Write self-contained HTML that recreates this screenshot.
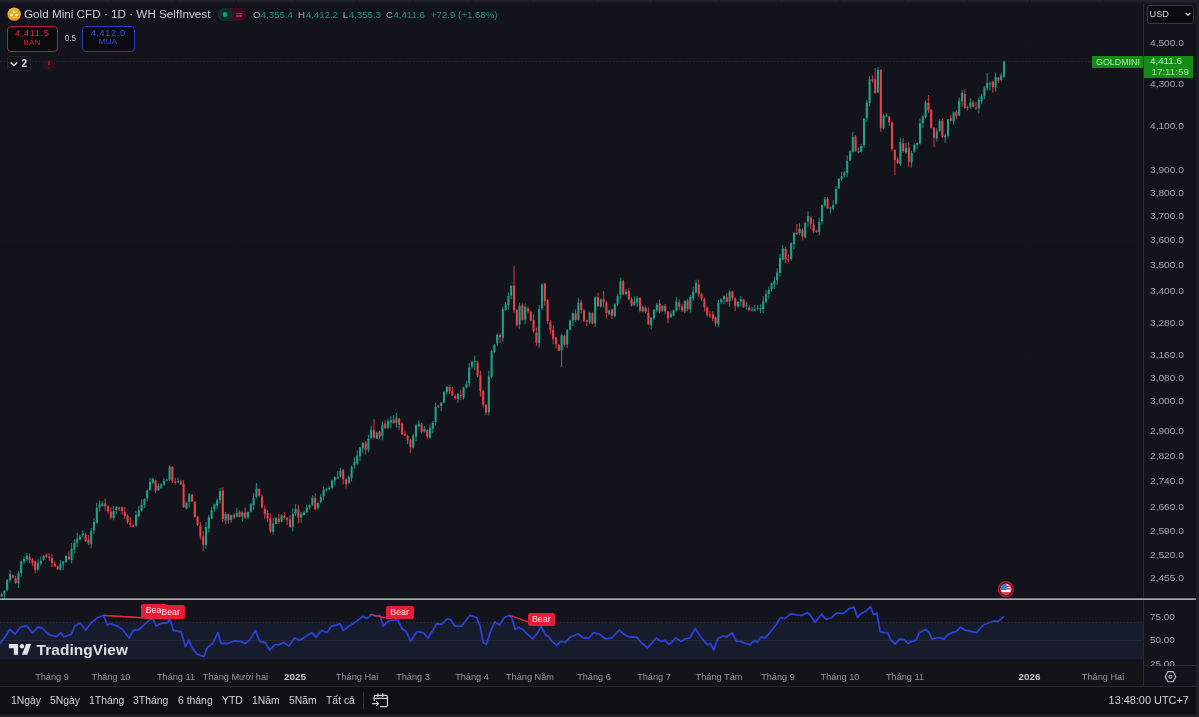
<!DOCTYPE html>
<html><head><meta charset="utf-8"><title>Gold Mini CFD</title>
<style>
*{margin:0;padding:0;box-sizing:border-box}
html,body{width:1199px;height:717px;overflow:hidden;background:#12131b;font-family:"Liberation Sans",Arial,sans-serif;color:#d1d4dc}
.abs{position:absolute}
.t{position:absolute;line-height:1;white-space:nowrap}
#topstrip{position:absolute;left:0;top:0;width:1199px;height:4px;background:linear-gradient(#24252d,#12131b)}
</style></head><body>
<div id="topstrip"></div>

<!-- main chart -->
<svg class="abs" style="left:0;top:0" width="1199" height="717" viewBox="0 0 1199 717">
  <g stroke="#15161d" stroke-width="1"><line x1="52" y1="0" x2="52" y2="598" /><line x1="111" y1="0" x2="111" y2="598" /><line x1="176" y1="0" x2="176" y2="598" /><line x1="235.5" y1="0" x2="235.5" y2="598" /><line x1="295" y1="0" x2="295" y2="598" /><line x1="357" y1="0" x2="357" y2="598" /><line x1="413" y1="0" x2="413" y2="598" /><line x1="472" y1="0" x2="472" y2="598" /><line x1="530" y1="0" x2="530" y2="598" /><line x1="594" y1="0" x2="594" y2="598" /><line x1="654" y1="0" x2="654" y2="598" /><line x1="719" y1="0" x2="719" y2="598" /><line x1="778" y1="0" x2="778" y2="598" /><line x1="840" y1="0" x2="840" y2="598" /><line x1="905" y1="0" x2="905" y2="598" /><line x1="1029.5" y1="0" x2="1029.5" y2="598" /><line x1="1103" y1="0" x2="1103" y2="598" /><line x1="967" y1="0" x2="967" y2="598" /><line x1="0" y1="43.5" x2="1143" y2="43.5" /><line x1="0" y1="83.6" x2="1143" y2="83.6" /><line x1="0" y1="125.7" x2="1143" y2="125.7" /><line x1="0" y1="169.8" x2="1143" y2="169.8" /><line x1="0" y1="192.7" x2="1143" y2="192.7" /><line x1="0" y1="216.3" x2="1143" y2="216.3" /><line x1="0" y1="240.5" x2="1143" y2="240.5" /><line x1="0" y1="265.3" x2="1143" y2="265.3" /><line x1="0" y1="290.9" x2="1143" y2="290.9" /><line x1="0" y1="322.6" x2="1143" y2="322.6" /><line x1="0" y1="355.5" x2="1143" y2="355.5" /><line x1="0" y1="378.2" x2="1143" y2="378.2" /><line x1="0" y1="401.4" x2="1143" y2="401.4" /><line x1="0" y1="431.3" x2="1143" y2="431.3" /><line x1="0" y1="456.0" x2="1143" y2="456.0" /><line x1="0" y1="481.4" x2="1143" y2="481.4" /><line x1="0" y1="507.6" x2="1143" y2="507.6" /><line x1="0" y1="531.1" x2="1143" y2="531.1" /><line x1="0" y1="555.3" x2="1143" y2="555.3" /><line x1="0" y1="578.4" x2="1143" y2="578.4" /></g>
  <!-- last price line -->
  <line x1="0" y1="61.5" x2="1143" y2="61.5" stroke="#23252d" stroke-width="1" stroke-dasharray="2 1.5"/>
  <path d="M-1.20 595.31V600.23M1.60 592.76V597.05M4.40 589.97V599.41M7.20 579.15V591.44M10.00 570.10V582.25M18.40 571.13V587.95M21.20 560.43V576.77M24.00 556.22V564.11M26.80 552.94V561.28M38.00 558.90V571.10M40.80 556.28V565.56M43.60 554.83V560.69M60.40 559.90V570.44M63.20 560.88V570.12M66.00 555.37V562.98M71.60 543.31V563.41M74.40 539.12V553.51M77.20 532.73V546.97M80.00 534.62V540.21M82.80 530.44V537.41M91.20 527.99V548.20M94.00 518.24V534.17M96.80 502.57V523.57M99.60 500.36V511.54M102.40 501.20V506.54M113.60 506.05V520.27M116.40 506.16V513.72M136.00 511.07V526.76M138.80 505.92V517.48M141.60 499.11V511.59M144.40 498.18V508.18M147.20 489.41V501.04M150.00 477.85V491.06M152.80 477.64V484.17M158.40 483.32V490.98M161.20 483.39V488.68M164.00 478.69V485.76M166.80 478.87V481.28M169.60 465.23V480.68M178.00 477.63V483.43M186.40 501.59V509.46M189.20 493.11V507.60M206.00 522.01V548.68M208.80 515.10V532.53M211.60 506.92V519.50M214.40 503.72V511.92M217.20 498.27V509.17M220.00 488.07V503.55M225.60 512.15V524.35M231.20 514.64V522.66M236.80 507.56V517.51M242.40 511.41V521.84M248.00 511.45V519.24M250.80 502.97V512.68M253.60 492.96V510.22M256.40 483.01V498.19M273.20 517.88V534.59M276.00 517.30V524.56M281.60 514.13V522.40M292.80 508.49V531.43M295.60 504.01V515.89M301.20 511.82V522.97M304.00 510.43V515.75M306.80 504.31V513.07M309.60 504.41V509.61M312.40 495.31V506.06M318.00 501.78V509.45M320.80 493.95V503.43M323.60 486.57V500.22M326.40 487.82V491.46M329.20 485.90V489.95M332.00 479.32V488.82M334.80 476.60V485.30M337.60 471.22V479.30M340.40 467.87V477.91M348.80 475.54V484.06M351.60 465.59V481.73M354.40 457.32V468.87M357.20 450.39V464.83M360.00 446.92V461.34M362.80 442.00V453.48M368.40 434.47V452.35M371.20 425.83V438.53M376.80 431.58V439.16M382.40 421.46V440.30M388.00 418.55V429.14M390.80 416.13V428.33M396.40 412.76V427.87M413.20 433.51V448.62M416.00 424.13V440.99M418.80 420.42V427.20M424.40 426.01V432.59M430.00 424.08V438.69M432.80 420.91V433.37M435.60 402.76V425.53M441.20 401.85V410.91M444.00 391.26V403.44M446.80 385.84V394.53M458.00 393.05V402.90M463.60 386.46V399.80M466.40 380.57V388.53M469.20 363.02V387.05M472.00 360.83V368.48M474.80 355.82V370.00M488.80 370.75V415.38M491.60 350.18V378.52M494.40 344.07V352.84M497.20 333.46V345.78M502.80 306.57V341.69M505.60 301.85V311.28M508.40 292.34V309.88M511.20 285.09V299.15M519.60 302.48V328.53M525.20 303.42V324.10M539.20 304.89V347.72M542.00 283.28V310.47M561.60 333.73V367.00M567.20 328.92V348.13M570.00 319.49V330.79M572.80 312.50V326.05M578.40 297.71V320.69M589.60 311.50V324.14M595.20 296.37V327.12M600.80 298.45V307.65M609.20 309.65V315.23M614.80 303.49V317.62M617.60 293.62V306.05M620.40 277.60V299.16M626.00 288.84V295.43M634.40 296.42V305.86M637.20 295.93V306.90M642.80 305.47V312.22M651.20 317.05V329.53M654.00 308.89V319.77M656.80 302.76V312.32M662.40 305.23V311.96M670.80 311.22V317.85M673.60 309.70V316.39M676.40 296.97V311.37M684.80 300.23V313.24M690.40 294.80V312.43M693.20 286.38V300.98M696.00 279.73V293.68M718.40 299.87V326.96M721.20 298.16V304.12M724.00 295.45V304.38M729.60 290.23V306.94M738.00 301.18V307.62M740.80 296.00V306.81M746.40 301.85V309.87M752.00 306.93V311.50M754.80 305.26V311.53M757.60 305.00V310.40M760.40 304.39V313.22M763.20 296.23V313.35M766.00 289.81V303.08M768.80 286.90V298.73M771.60 282.63V291.80M774.40 276.94V289.05M777.20 268.28V285.10M780.00 254.05V276.23M782.80 245.26V260.46M791.20 242.49V260.62M794.00 231.90V249.57M799.60 223.43V235.14M805.20 222.00V238.15M808.00 211.35V226.72M819.20 217.51V235.44M822.00 204.34V224.67M824.80 197.03V206.46M830.40 206.52V213.39M833.20 200.16V210.23M836.00 186.13V204.82M838.80 178.03V189.01M841.60 171.76V181.00M844.40 170.97V177.38M847.20 155.62V177.32M850.00 150.16V161.03M852.80 131.90V152.80M858.40 147.40V153.30M861.20 143.75V152.65M864.00 117.88V147.72M866.80 99.98V122.14M869.60 76.07V106.41M878.00 67.00V93.20M883.60 113.99V129.33M886.40 113.28V117.22M900.40 137.63V166.10M906.00 142.93V153.87M911.60 150.97V167.72M914.40 143.33V152.49M917.20 142.40V148.92M920.00 118.50V144.47M922.80 115.22V128.21M925.60 100.70V118.53M936.80 128.36V141.53M939.60 119.21V131.90M945.20 133.39V142.95M948.00 119.00V137.66M953.60 111.43V124.51M959.20 97.54V116.35M962.00 90.21V106.83M967.60 105.61V110.18M970.40 98.07V108.60M978.80 97.71V113.48M981.60 93.75V104.43M984.40 86.24V99.13M987.20 73.00V90.46M990.00 81.40V90.23M995.60 72.47V91.60M1001.20 72.68V81.43M1004.00 60.46V77.96" stroke="#1fa287" stroke-width="0.9" fill="none"/><path d="M12.80 574.37V578.44M15.60 575.84V584.00M29.60 553.47V563.18M32.40 557.98V566.11M35.20 560.77V573.39M46.40 553.54V558.14M49.20 553.28V560.82M52.00 554.22V567.05M54.80 561.31V567.01M57.60 565.67V570.00M68.80 551.36V560.06M85.60 532.88V542.04M88.40 534.77V545.36M105.20 498.44V510.88M108.00 505.34V513.65M110.80 507.01V519.53M119.20 506.50V511.11M122.00 506.25V514.68M124.80 506.97V518.75M127.60 514.14V523.94M130.40 517.15V527.07M133.20 524.29V527.56M155.60 479.75V493.35M172.40 466.19V483.23M175.20 477.72V484.57M180.80 479.76V485.18M183.60 480.00V508.00M192.00 493.59V502.06M194.80 500.90V517.69M197.60 516.01V526.00M200.40 522.10V539.60M203.20 530.94V551.00M222.80 487.41V522.32M228.40 513.49V523.73M234.00 513.25V519.24M239.60 509.96V517.62M245.20 507.87V518.89M259.20 488.34V496.79M262.00 494.58V508.69M264.80 505.65V519.30M267.60 509.85V522.08M270.40 513.35V533.17M278.80 513.77V524.00M284.40 511.96V519.60M287.20 517.21V525.03M290.00 515.01V527.98M298.40 505.03V523.39M315.20 493.23V510.11M343.20 468.91V484.45M346.00 478.31V488.40M365.60 440.99V454.78M374.00 419.00V438.70M379.60 431.00V439.14M385.20 420.34V429.07M393.60 415.08V423.90M399.20 417.78V430.24M402.00 422.48V435.02M404.80 430.72V436.01M407.60 434.71V444.19M410.40 438.73V453.00M421.60 422.75V433.82M427.20 429.29V438.69M438.40 404.58V408.07M449.60 385.23V393.81M452.40 387.06V396.25M455.20 394.48V399.58M460.80 389.80V400.25M477.60 360.64V377.15M480.40 370.76V396.61M483.20 389.91V407.41M486.00 403.95V415.00M500.00 333.17V343.00M514.00 266.00V312.57M516.80 308.95V326.45M522.40 303.40V320.59M528.00 306.53V313.70M530.80 310.50V321.28M533.60 314.38V332.77M536.40 327.72V345.80M544.80 282.92V305.85M547.60 299.29V324.00M550.40 319.96V334.06M553.20 325.55V344.36M556.00 336.97V348.51M558.80 343.93V351.38M564.40 334.54V346.77M575.60 309.49V321.79M581.20 299.66V313.64M584.00 308.79V322.17M586.80 319.74V326.16M592.40 311.88V324.39M598.00 292.45V307.00M603.60 291.00V307.40M606.40 301.24V318.58M612.00 308.33V319.03M623.20 280.00V295.20M628.80 287.96V300.42M631.60 297.29V306.66M640.00 296.83V312.40M645.60 306.29V313.30M648.40 307.43V325.34M659.60 299.25V313.14M665.20 304.04V314.52M668.00 310.89V323.05M679.20 299.34V310.31M682.00 304.15V312.11M687.60 298.69V311.13M698.80 279.81V297.12M701.60 292.55V300.73M704.40 297.72V311.50M707.20 305.78V316.70M710.00 311.00V317.94M712.80 311.03V321.11M715.60 316.78V326.33M726.80 293.18V302.80M732.40 290.88V300.72M735.20 297.25V311.06M743.60 298.94V308.04M749.20 305.45V311.60M785.60 246.75V263.40M788.40 254.46V262.22M796.80 224.00V235.24M802.40 228.28V240.34M810.80 215.90V229.12M813.60 219.31V232.76M816.40 229.70V232.78M827.60 197.07V209.29M855.60 135.18V152.00M872.40 75.25V82.89M875.20 68.00V93.79M880.80 69.19V132.06M889.20 115.92V126.30M892.00 121.40V151.34M894.80 149.19V175.00M897.60 157.45V164.00M903.20 137.99V152.77M908.80 142.16V166.67M928.40 95.00V112.65M931.20 108.85V128.57M934.00 126.81V147.00M942.40 118.26V138.16M950.80 115.05V121.54M956.40 109.89V119.47M964.80 89.39V109.33M973.20 100.39V107.36M976.00 101.99V110.02M992.80 80.76V92.52M998.40 76.76V82.89" stroke="#e8434b" stroke-width="0.9" fill="none"/><g fill="#1fa287"><rect x="-2.22" y="596.16" width="2.05" height="2.63"/><rect x="0.58" y="594.22" width="2.05" height="2.25"/><rect x="3.38" y="590.78" width="2.05" height="3.32"/><rect x="6.18" y="580.15" width="2.05" height="9.94"/><rect x="8.98" y="574.08" width="2.05" height="5.89"/><rect x="17.38" y="573.40" width="2.05" height="9.96"/><rect x="20.18" y="561.49" width="2.05" height="11.70"/><rect x="22.98" y="558.97" width="2.05" height="2.61"/><rect x="25.78" y="555.55" width="2.05" height="3.90"/><rect x="36.98" y="563.39" width="2.05" height="6.16"/><rect x="39.78" y="560.92" width="2.05" height="3.14"/><rect x="42.58" y="555.92" width="2.05" height="3.91"/><rect x="59.38" y="564.23" width="2.05" height="5.29"/><rect x="62.18" y="561.63" width="2.05" height="2.63"/><rect x="64.98" y="555.96" width="2.05" height="6.00"/><rect x="70.58" y="548.86" width="2.05" height="11.19"/><rect x="73.38" y="542.68" width="2.05" height="7.03"/><rect x="76.18" y="538.49" width="2.05" height="4.31"/><rect x="78.98" y="536.58" width="2.05" height="2.96"/><rect x="81.78" y="533.47" width="2.05" height="1.96"/><rect x="90.18" y="530.72" width="2.05" height="13.46"/><rect x="92.98" y="521.95" width="2.05" height="8.35"/><rect x="95.78" y="507.75" width="2.05" height="14.82"/><rect x="98.58" y="504.56" width="2.05" height="2.99"/><rect x="101.38" y="503.38" width="2.05" height="2.60"/><rect x="112.58" y="510.97" width="2.05" height="7.13"/><rect x="115.38" y="507.04" width="2.05" height="2.98"/><rect x="134.97" y="514.98" width="2.05" height="10.71"/><rect x="137.78" y="510.38" width="2.05" height="5.87"/><rect x="140.58" y="504.76" width="2.05" height="5.79"/><rect x="143.38" y="499.04" width="2.05" height="5.88"/><rect x="146.18" y="490.13" width="2.05" height="8.29"/><rect x="148.97" y="481.95" width="2.05" height="8.06"/><rect x="151.78" y="478.90" width="2.05" height="3.82"/><rect x="157.38" y="486.21" width="2.05" height="4.03"/><rect x="160.18" y="484.32" width="2.05" height="3.40"/><rect x="162.97" y="480.89" width="2.05" height="3.55"/><rect x="165.78" y="479.56" width="2.05" height="1.00"/><rect x="168.58" y="466.53" width="2.05" height="13.24"/><rect x="176.97" y="480.74" width="2.05" height="1.11"/><rect x="185.38" y="502.82" width="2.05" height="5.59"/><rect x="188.18" y="494.18" width="2.05" height="7.71"/><rect x="204.97" y="526.91" width="2.05" height="18.27"/><rect x="207.78" y="517.13" width="2.05" height="11.24"/><rect x="210.58" y="510.20" width="2.05" height="8.19"/><rect x="213.38" y="504.45" width="2.05" height="4.98"/><rect x="216.18" y="500.30" width="2.05" height="5.18"/><rect x="218.97" y="491.01" width="2.05" height="9.29"/><rect x="224.58" y="513.99" width="2.05" height="6.59"/><rect x="230.18" y="515.16" width="2.05" height="4.60"/><rect x="235.78" y="512.94" width="2.05" height="3.60"/><rect x="241.38" y="512.31" width="2.05" height="4.23"/><rect x="246.97" y="511.97" width="2.05" height="5.51"/><rect x="249.78" y="504.14" width="2.05" height="7.62"/><rect x="252.58" y="497.81" width="2.05" height="7.49"/><rect x="255.38" y="488.69" width="2.05" height="8.05"/><rect x="272.18" y="523.51" width="2.05" height="8.30"/><rect x="274.98" y="518.14" width="2.05" height="5.62"/><rect x="280.58" y="515.26" width="2.05" height="6.31"/><rect x="291.78" y="513.76" width="2.05" height="12.94"/><rect x="294.58" y="508.88" width="2.05" height="4.55"/><rect x="300.18" y="513.76" width="2.05" height="3.94"/><rect x="302.98" y="512.35" width="2.05" height="2.61"/><rect x="305.78" y="507.36" width="2.05" height="4.98"/><rect x="308.58" y="505.33" width="2.05" height="2.38"/><rect x="311.38" y="497.73" width="2.05" height="7.37"/><rect x="316.98" y="503.11" width="2.05" height="4.59"/><rect x="319.78" y="496.81" width="2.05" height="5.40"/><rect x="322.58" y="489.61" width="2.05" height="6.83"/><rect x="325.38" y="489.29" width="2.05" height="1.00"/><rect x="328.18" y="488.11" width="2.05" height="1.00"/><rect x="330.98" y="480.40" width="2.05" height="7.50"/><rect x="333.78" y="477.14" width="2.05" height="3.43"/><rect x="336.58" y="476.56" width="2.05" height="1.90"/><rect x="339.38" y="470.59" width="2.05" height="5.93"/><rect x="347.78" y="476.97" width="2.05" height="5.95"/><rect x="350.58" y="466.95" width="2.05" height="10.93"/><rect x="353.38" y="462.08" width="2.05" height="3.37"/><rect x="356.18" y="455.61" width="2.05" height="8.06"/><rect x="358.98" y="447.56" width="2.05" height="8.70"/><rect x="361.78" y="443.06" width="2.05" height="5.10"/><rect x="367.38" y="438.73" width="2.05" height="10.89"/><rect x="370.18" y="429.57" width="2.05" height="8.23"/><rect x="375.78" y="432.92" width="2.05" height="5.66"/><rect x="381.38" y="424.60" width="2.05" height="11.61"/><rect x="386.98" y="421.17" width="2.05" height="6.53"/><rect x="389.78" y="420.02" width="2.05" height="2.57"/><rect x="395.38" y="418.09" width="2.05" height="4.67"/><rect x="412.18" y="435.19" width="2.05" height="12.32"/><rect x="414.98" y="425.55" width="2.05" height="10.99"/><rect x="417.78" y="423.67" width="2.05" height="2.92"/><rect x="423.38" y="428.84" width="2.05" height="2.76"/><rect x="428.98" y="428.06" width="2.05" height="9.45"/><rect x="431.78" y="423.06" width="2.05" height="5.49"/><rect x="434.58" y="406.97" width="2.05" height="14.90"/><rect x="440.18" y="402.72" width="2.05" height="3.30"/><rect x="442.98" y="392.15" width="2.05" height="10.30"/><rect x="445.78" y="387.12" width="2.05" height="5.00"/><rect x="456.98" y="393.90" width="2.05" height="5.11"/><rect x="462.58" y="387.56" width="2.05" height="10.04"/><rect x="465.38" y="384.27" width="2.05" height="3.28"/><rect x="468.18" y="367.61" width="2.05" height="15.47"/><rect x="470.98" y="362.01" width="2.05" height="4.57"/><rect x="473.78" y="360.78" width="2.05" height="1.00"/><rect x="487.78" y="376.41" width="2.05" height="35.98"/><rect x="490.58" y="350.80" width="2.05" height="25.97"/><rect x="493.38" y="345.02" width="2.05" height="7.00"/><rect x="496.18" y="334.65" width="2.05" height="8.82"/><rect x="501.78" y="309.16" width="2.05" height="28.53"/><rect x="504.58" y="304.43" width="2.05" height="5.45"/><rect x="507.38" y="296.00" width="2.05" height="9.18"/><rect x="510.18" y="286.08" width="2.05" height="9.51"/><rect x="518.58" y="305.93" width="2.05" height="18.52"/><rect x="524.18" y="306.89" width="2.05" height="12.79"/><rect x="538.18" y="309.15" width="2.05" height="34.05"/><rect x="540.98" y="284.54" width="2.05" height="23.39"/><rect x="560.58" y="335.29" width="2.05" height="15.02"/><rect x="566.18" y="330.28" width="2.05" height="14.14"/><rect x="568.98" y="320.49" width="2.05" height="9.32"/><rect x="571.77" y="313.21" width="2.05" height="7.17"/><rect x="577.38" y="302.80" width="2.05" height="17.02"/><rect x="588.58" y="312.71" width="2.05" height="9.29"/><rect x="594.18" y="297.39" width="2.05" height="26.02"/><rect x="599.77" y="299.49" width="2.05" height="7.27"/><rect x="608.18" y="310.56" width="2.05" height="3.79"/><rect x="613.77" y="304.32" width="2.05" height="11.68"/><rect x="616.58" y="295.98" width="2.05" height="8.31"/><rect x="619.38" y="281.53" width="2.05" height="13.14"/><rect x="624.98" y="291.68" width="2.05" height="2.23"/><rect x="633.38" y="301.74" width="2.05" height="3.32"/><rect x="636.18" y="298.10" width="2.05" height="4.54"/><rect x="641.77" y="307.09" width="2.05" height="4.22"/><rect x="650.18" y="317.74" width="2.05" height="7.62"/><rect x="652.98" y="309.93" width="2.05" height="8.24"/><rect x="655.77" y="304.76" width="2.05" height="5.40"/><rect x="661.38" y="305.82" width="2.05" height="4.88"/><rect x="669.77" y="314.14" width="2.05" height="3.20"/><rect x="672.58" y="310.37" width="2.05" height="5.17"/><rect x="675.38" y="301.63" width="2.05" height="8.70"/><rect x="683.77" y="301.13" width="2.05" height="10.33"/><rect x="689.38" y="296.82" width="2.05" height="12.62"/><rect x="692.18" y="291.70" width="2.05" height="6.71"/><rect x="694.98" y="282.87" width="2.05" height="9.29"/><rect x="717.38" y="302.69" width="2.05" height="21.50"/><rect x="720.18" y="299.23" width="2.05" height="3.00"/><rect x="722.98" y="296.04" width="2.05" height="3.27"/><rect x="728.58" y="291.81" width="2.05" height="9.95"/><rect x="736.98" y="301.94" width="2.05" height="4.64"/><rect x="739.77" y="298.84" width="2.05" height="2.74"/><rect x="745.38" y="305.28" width="2.05" height="1.00"/><rect x="750.98" y="309.56" width="2.05" height="1.00"/><rect x="753.77" y="309.55" width="2.05" height="1.22"/><rect x="756.58" y="307.84" width="2.05" height="1.00"/><rect x="759.38" y="308.17" width="2.05" height="1.00"/><rect x="762.18" y="301.50" width="2.05" height="7.58"/><rect x="764.98" y="294.25" width="2.05" height="7.54"/><rect x="767.77" y="289.93" width="2.05" height="3.98"/><rect x="770.58" y="283.48" width="2.05" height="5.89"/><rect x="773.38" y="280.93" width="2.05" height="3.45"/><rect x="776.18" y="272.46" width="2.05" height="7.63"/><rect x="778.98" y="258.00" width="2.05" height="14.81"/><rect x="781.77" y="248.36" width="2.05" height="11.16"/><rect x="790.18" y="243.25" width="2.05" height="15.85"/><rect x="792.98" y="232.77" width="2.05" height="11.31"/><rect x="798.58" y="228.85" width="2.05" height="4.17"/><rect x="804.18" y="223.11" width="2.05" height="14.27"/><rect x="806.98" y="215.92" width="2.05" height="5.58"/><rect x="818.18" y="221.97" width="2.05" height="9.86"/><rect x="820.98" y="205.35" width="2.05" height="15.90"/><rect x="823.77" y="199.42" width="2.05" height="6.10"/><rect x="829.38" y="207.57" width="2.05" height="1.00"/><rect x="832.18" y="205.04" width="2.05" height="3.62"/><rect x="834.98" y="189.03" width="2.05" height="14.49"/><rect x="837.77" y="178.95" width="2.05" height="9.44"/><rect x="840.58" y="176.13" width="2.05" height="3.13"/><rect x="843.38" y="172.45" width="2.05" height="3.14"/><rect x="846.18" y="160.97" width="2.05" height="11.81"/><rect x="848.98" y="151.31" width="2.05" height="8.90"/><rect x="851.77" y="137.18" width="2.05" height="14.66"/><rect x="857.38" y="151.37" width="2.05" height="1.00"/><rect x="860.18" y="145.99" width="2.05" height="5.93"/><rect x="862.98" y="118.51" width="2.05" height="26.82"/><rect x="865.77" y="102.46" width="2.05" height="15.54"/><rect x="868.58" y="79.29" width="2.05" height="23.81"/><rect x="876.98" y="69.68" width="2.05" height="22.72"/><rect x="882.58" y="115.57" width="2.05" height="12.87"/><rect x="885.38" y="115.45" width="2.05" height="1.00"/><rect x="899.38" y="142.13" width="2.05" height="21.76"/><rect x="904.98" y="148.06" width="2.05" height="4.35"/><rect x="910.58" y="152.83" width="2.05" height="9.54"/><rect x="913.38" y="144.81" width="2.05" height="6.89"/><rect x="916.18" y="143.01" width="2.05" height="1.91"/><rect x="918.98" y="123.32" width="2.05" height="20.20"/><rect x="921.77" y="116.44" width="2.05" height="6.73"/><rect x="924.58" y="102.40" width="2.05" height="14.74"/><rect x="935.77" y="131.26" width="2.05" height="7.14"/><rect x="938.58" y="121.12" width="2.05" height="9.84"/><rect x="944.18" y="135.37" width="2.05" height="2.06"/><rect x="946.98" y="119.65" width="2.05" height="16.10"/><rect x="952.58" y="112.57" width="2.05" height="8.98"/><rect x="958.18" y="100.94" width="2.05" height="14.37"/><rect x="960.98" y="92.81" width="2.05" height="8.63"/><rect x="966.58" y="106.90" width="2.05" height="1.04"/><rect x="969.38" y="102.57" width="2.05" height="4.29"/><rect x="977.77" y="99.83" width="2.05" height="8.67"/><rect x="980.58" y="96.09" width="2.05" height="5.24"/><rect x="983.38" y="87.66" width="2.05" height="8.21"/><rect x="986.18" y="83.04" width="2.05" height="4.99"/><rect x="988.98" y="83.11" width="2.05" height="1.34"/><rect x="994.58" y="77.03" width="2.05" height="10.36"/><rect x="1000.18" y="75.25" width="2.05" height="4.75"/><rect x="1002.98" y="61.83" width="2.05" height="14.76"/></g><g fill="#e8434b"><rect x="11.78" y="575.17" width="2.05" height="2.53"/><rect x="14.58" y="578.22" width="2.05" height="4.61"/><rect x="28.58" y="556.41" width="2.05" height="3.78"/><rect x="31.38" y="559.30" width="2.05" height="3.89"/><rect x="34.18" y="561.43" width="2.05" height="8.48"/><rect x="45.38" y="554.68" width="2.05" height="2.08"/><rect x="48.18" y="556.64" width="2.05" height="1.52"/><rect x="50.98" y="558.21" width="2.05" height="4.72"/><rect x="53.78" y="563.87" width="2.05" height="2.59"/><rect x="56.58" y="566.35" width="2.05" height="2.84"/><rect x="67.78" y="556.39" width="2.05" height="2.79"/><rect x="84.58" y="534.52" width="2.05" height="6.65"/><rect x="87.38" y="539.64" width="2.05" height="3.65"/><rect x="104.18" y="503.57" width="2.05" height="2.79"/><rect x="106.97" y="506.39" width="2.05" height="4.92"/><rect x="109.78" y="511.71" width="2.05" height="6.09"/><rect x="118.18" y="507.81" width="2.05" height="1.00"/><rect x="120.97" y="507.34" width="2.05" height="3.71"/><rect x="123.78" y="512.01" width="2.05" height="4.14"/><rect x="126.58" y="516.01" width="2.05" height="6.02"/><rect x="129.38" y="522.53" width="2.05" height="2.35"/><rect x="132.18" y="524.93" width="2.05" height="1.88"/><rect x="154.58" y="480.49" width="2.05" height="10.27"/><rect x="171.38" y="466.82" width="2.05" height="14.03"/><rect x="174.18" y="481.63" width="2.05" height="1.00"/><rect x="179.78" y="481.40" width="2.05" height="3.10"/><rect x="182.58" y="483.56" width="2.05" height="23.41"/><rect x="190.97" y="495.06" width="2.05" height="6.33"/><rect x="193.78" y="501.86" width="2.05" height="15.08"/><rect x="196.58" y="516.72" width="2.05" height="8.30"/><rect x="199.38" y="525.68" width="2.05" height="10.53"/><rect x="202.18" y="536.45" width="2.05" height="8.28"/><rect x="221.78" y="490.70" width="2.05" height="28.28"/><rect x="227.38" y="514.14" width="2.05" height="6.20"/><rect x="232.97" y="515.23" width="2.05" height="2.19"/><rect x="238.58" y="511.95" width="2.05" height="4.82"/><rect x="244.18" y="512.56" width="2.05" height="5.21"/><rect x="258.18" y="488.91" width="2.05" height="6.55"/><rect x="260.98" y="496.52" width="2.05" height="10.88"/><rect x="263.78" y="508.55" width="2.05" height="5.37"/><rect x="266.58" y="513.06" width="2.05" height="5.47"/><rect x="269.38" y="518.17" width="2.05" height="13.31"/><rect x="277.78" y="518.49" width="2.05" height="3.51"/><rect x="283.38" y="515.71" width="2.05" height="2.32"/><rect x="286.18" y="517.90" width="2.05" height="1.81"/><rect x="288.98" y="519.55" width="2.05" height="7.46"/><rect x="297.38" y="509.40" width="2.05" height="8.34"/><rect x="314.18" y="497.95" width="2.05" height="11.15"/><rect x="342.18" y="469.80" width="2.05" height="9.41"/><rect x="344.98" y="479.55" width="2.05" height="4.57"/><rect x="364.58" y="442.54" width="2.05" height="7.18"/><rect x="372.98" y="430.30" width="2.05" height="7.09"/><rect x="378.58" y="432.00" width="2.05" height="4.51"/><rect x="384.18" y="423.75" width="2.05" height="4.41"/><rect x="392.58" y="419.52" width="2.05" height="3.42"/><rect x="398.18" y="418.85" width="2.05" height="6.03"/><rect x="400.98" y="423.53" width="2.05" height="10.70"/><rect x="403.78" y="433.64" width="2.05" height="1.77"/><rect x="406.58" y="435.79" width="2.05" height="4.64"/><rect x="409.38" y="440.06" width="2.05" height="6.89"/><rect x="420.58" y="424.48" width="2.05" height="7.34"/><rect x="426.18" y="430.15" width="2.05" height="6.54"/><rect x="437.38" y="405.67" width="2.05" height="1.00"/><rect x="448.58" y="386.91" width="2.05" height="4.47"/><rect x="451.38" y="390.99" width="2.05" height="4.38"/><rect x="454.18" y="395.97" width="2.05" height="2.09"/><rect x="459.78" y="395.01" width="2.05" height="1.00"/><rect x="476.58" y="362.60" width="2.05" height="13.08"/><rect x="479.38" y="375.45" width="2.05" height="15.68"/><rect x="482.18" y="391.16" width="2.05" height="13.59"/><rect x="484.98" y="404.83" width="2.05" height="7.80"/><rect x="498.98" y="335.11" width="2.05" height="2.18"/><rect x="512.98" y="285.41" width="2.05" height="24.71"/><rect x="515.77" y="310.01" width="2.05" height="15.33"/><rect x="521.38" y="305.29" width="2.05" height="14.62"/><rect x="526.98" y="308.25" width="2.05" height="3.18"/><rect x="529.77" y="311.72" width="2.05" height="8.62"/><rect x="532.58" y="319.71" width="2.05" height="11.65"/><rect x="535.38" y="332.46" width="2.05" height="10.13"/><rect x="543.77" y="283.49" width="2.05" height="17.49"/><rect x="546.58" y="299.81" width="2.05" height="21.33"/><rect x="549.38" y="322.24" width="2.05" height="7.80"/><rect x="552.18" y="329.85" width="2.05" height="9.09"/><rect x="554.98" y="337.53" width="2.05" height="6.77"/><rect x="557.77" y="345.16" width="2.05" height="5.62"/><rect x="563.38" y="335.74" width="2.05" height="8.78"/><rect x="574.58" y="313.41" width="2.05" height="6.57"/><rect x="580.18" y="302.24" width="2.05" height="7.76"/><rect x="582.98" y="310.24" width="2.05" height="10.45"/><rect x="585.77" y="320.47" width="2.05" height="1.00"/><rect x="591.38" y="313.31" width="2.05" height="10.30"/><rect x="596.98" y="297.10" width="2.05" height="9.01"/><rect x="602.58" y="298.79" width="2.05" height="3.26"/><rect x="605.38" y="302.27" width="2.05" height="10.77"/><rect x="610.98" y="309.65" width="2.05" height="6.08"/><rect x="622.18" y="281.22" width="2.05" height="13.12"/><rect x="627.77" y="290.95" width="2.05" height="8.35"/><rect x="630.58" y="299.19" width="2.05" height="6.48"/><rect x="638.98" y="298.03" width="2.05" height="12.76"/><rect x="644.58" y="307.88" width="2.05" height="3.95"/><rect x="647.38" y="312.72" width="2.05" height="11.62"/><rect x="658.58" y="303.55" width="2.05" height="8.25"/><rect x="664.18" y="305.69" width="2.05" height="5.83"/><rect x="666.98" y="311.83" width="2.05" height="6.19"/><rect x="678.18" y="302.47" width="2.05" height="3.79"/><rect x="680.98" y="306.41" width="2.05" height="3.87"/><rect x="686.58" y="300.47" width="2.05" height="8.45"/><rect x="697.77" y="284.58" width="2.05" height="9.45"/><rect x="700.58" y="294.15" width="2.05" height="4.46"/><rect x="703.38" y="299.32" width="2.05" height="7.98"/><rect x="706.18" y="307.75" width="2.05" height="7.04"/><rect x="708.98" y="314.57" width="2.05" height="1.00"/><rect x="711.77" y="314.16" width="2.05" height="4.52"/><rect x="714.58" y="317.46" width="2.05" height="6.06"/><rect x="725.77" y="297.19" width="2.05" height="4.50"/><rect x="731.38" y="291.47" width="2.05" height="6.70"/><rect x="734.18" y="298.50" width="2.05" height="7.37"/><rect x="742.58" y="299.51" width="2.05" height="7.38"/><rect x="748.18" y="307.37" width="2.05" height="2.94"/><rect x="784.58" y="248.71" width="2.05" height="10.90"/><rect x="787.38" y="259.33" width="2.05" height="1.00"/><rect x="795.77" y="232.85" width="2.05" height="1.00"/><rect x="801.38" y="230.08" width="2.05" height="6.35"/><rect x="809.77" y="217.49" width="2.05" height="6.46"/><rect x="812.58" y="224.71" width="2.05" height="6.45"/><rect x="815.38" y="230.94" width="2.05" height="1.00"/><rect x="826.58" y="198.79" width="2.05" height="9.63"/><rect x="854.58" y="136.48" width="2.05" height="14.46"/><rect x="871.38" y="79.47" width="2.05" height="1.28"/><rect x="874.18" y="79.42" width="2.05" height="13.57"/><rect x="879.77" y="70.02" width="2.05" height="57.85"/><rect x="888.18" y="116.56" width="2.05" height="5.78"/><rect x="890.98" y="122.44" width="2.05" height="26.60"/><rect x="893.77" y="150.09" width="2.05" height="9.96"/><rect x="896.58" y="159.45" width="2.05" height="3.64"/><rect x="902.18" y="143.30" width="2.05" height="7.90"/><rect x="907.77" y="147.69" width="2.05" height="13.92"/><rect x="927.38" y="102.77" width="2.05" height="7.59"/><rect x="930.18" y="109.72" width="2.05" height="18.20"/><rect x="932.98" y="127.75" width="2.05" height="10.02"/><rect x="941.38" y="120.67" width="2.05" height="16.36"/><rect x="949.77" y="118.47" width="2.05" height="2.26"/><rect x="955.38" y="112.14" width="2.05" height="3.70"/><rect x="963.77" y="94.09" width="2.05" height="13.72"/><rect x="972.18" y="102.62" width="2.05" height="3.91"/><rect x="974.98" y="107.50" width="2.05" height="1.00"/><rect x="991.77" y="81.81" width="2.05" height="5.26"/><rect x="997.38" y="77.59" width="2.05" height="3.34"/></g>
  <!-- price axis border -->
  <line x1="1143.5" y1="4" x2="1143.5" y2="686" stroke="#2a2b33" stroke-width="1"/>
  <!-- separator -->
  <rect x="0" y="598.5" width="1197" height="1.3" fill="#d2d3d8"/>
  <!-- RSI pane -->
  <rect x="0" y="622.3" width="1143" height="37.5" fill="#161c2b"/>
  <rect x="0" y="659.8" width="1143" height="26.2" fill="#131318"/>
  <g stroke="#30333d" stroke-width="1" stroke-dasharray="1.5 2">
    <line x1="0" y1="622.3" x2="1143" y2="622.3"/>
  </g>
  <line x1="0" y1="640.5" x2="1143" y2="640.5" stroke="#262a36" stroke-width="1"/>
  <line x1="0" y1="658.5" x2="1143" y2="658.5" stroke="#1e2332" stroke-width="1" stroke-dasharray="1.5 2"/>
  <path d="M0.0 643.5 L4.3 638.0 L9.8 629.5 L15.2 634.0 L20.6 627.0 L27.0 626.0 L32.5 633.0 L38.0 627.0 L42.3 628.0 L46.6 632.7 L49.9 635.0 L56.4 636.6 L60.7 632.7 L64.0 637.0 L71.6 633.8 L74.8 626.0 L80.0 623.0 L85.7 630.0 L91.0 623.0 L97.6 617.5 L103.5 615.5 L107.4 625.0 L110.6 623.6 L117.0 626.0 L122.6 629.5 L129.0 638.0 L133.4 630.5 L138.8 629.5 L144.0 625.0 L149.7 619.7 L153.0 618.8 L156.0 626.0 L161.6 623.0 L167.0 623.0 L170.0 619.2 L173.5 630.5 L181.0 631.6 L185.5 646.8 L188.7 640.3 L193.0 649.0 L197.4 654.4 L204.0 656.6 L207.0 648.0 L212.6 643.5 L218.0 632.7 L221.0 643.5 L227.8 643.5 L234.0 641.0 L240.8 641.4 L245.0 643.5 L249.5 640.3 L255.4 630.5 L259.8 641.4 L265.2 642.5 L269.5 650.0 L275.0 644.6 L279.3 644.6 L283.6 642.5 L289.0 646.0 L294.5 638.0 L300.0 640.3 L306.4 636.0 L311.8 632.7 L316.2 637.0 L321.6 630.5 L327.0 632.7 L331.3 626.2 L336.8 625.0 L340.0 623.6 L343.3 630.5 L348.7 626.2 L354.0 623.0 L358.5 619.7 L362.8 616.4 L367.0 618.6 L371.5 614.3 L375.8 616.4 L380.0 615.4 L383.4 626.2 L388.8 620.8 L397.5 619.7 L401.8 628.4 L406.2 631.6 L410.5 641.4 L417.0 631.6 L423.5 632.7 L427.9 638.0 L433.3 629.5 L436.5 624.0 L442.0 624.0 L447.4 618.6 L450.6 619.7 L455.0 626.2 L461.5 626.2 L470.0 615.4 L476.7 617.5 L480.0 626.2 L483.2 642.5 L486.4 644.6 L490.8 630.5 L495.0 621.9 L499.5 625.0 L504.3 617.5 L509.8 615.4 L512.0 618.6 L515.2 629.5 L518.4 627.3 L522.8 629.5 L528.2 634.9 L532.5 638.8 L536.9 633.8 L541.2 626.6 L545.5 634.9 L548.8 636.6 L552.0 641.4 L556.8 645.3 L560.7 641.4 L565.0 642.5 L570.5 637.0 L578.0 633.8 L583.5 638.0 L589.0 638.0 L593.3 632.7 L599.8 634.4 L605.2 638.8 L611.7 638.0 L619.3 630.1 L624.7 634.9 L630.2 637.0 L636.7 637.0 L641.0 642.5 L647.5 647.9 L656.2 638.0 L660.5 641.4 L664.9 640.3 L669.2 644.6 L675.7 638.0 L681.1 641.4 L684.4 639.2 L689.8 638.0 L695.2 628.4 L700.7 637.0 L707.2 644.6 L710.4 643.5 L713.7 650.0 L718.0 638.0 L723.4 636.0 L726.7 637.0 L732.1 632.7 L736.4 641.4 L740.8 641.4 L745.1 643.5 L750.0 644.6 L754.3 640.3 L757.6 642.5 L760.8 637.0 L765.2 638.0 L770.6 631.6 L776.0 625.0 L780.4 617.5 L784.7 618.6 L791.2 613.6 L796.6 614.9 L802.0 615.4 L807.5 612.5 L810.7 615.4 L815.0 622.3 L821.6 614.3 L826.0 619.3 L831.3 618.0 L836.8 612.8 L843.3 613.6 L848.7 608.8 L854.0 607.1 L857.4 617.5 L861.7 613.2 L866.0 611.0 L870.4 606.7 L873.6 614.3 L876.9 613.2 L880.2 631.6 L883.4 632.7 L887.7 632.7 L891.0 640.3 L895.3 644.0 L899.7 638.8 L904.0 639.6 L908.0 643.5 L911.6 641.4 L916.0 640.3 L919.2 632.7 L925.7 629.5 L929.0 632.7 L932.2 639.2 L938.7 637.5 L944.1 638.8 L947.4 634.9 L951.7 632.7 L956.0 631.6 L960.4 627.3 L964.8 630.1 L969.0 631.0 L976.7 632.7 L983.2 625.0 L988.6 623.0 L994.0 620.8 L998.4 621.4 L1003.8 616.4" fill="none" stroke="#2a40d8" stroke-width="1.8" stroke-linejoin="round"/>
  <!-- divergence lines -->
  <g stroke="#e8283c" stroke-width="1.3">
    <line x1="103.3" y1="615.4" x2="153" y2="618.7"/>
    <line x1="103.3" y1="615.4" x2="170" y2="619.2"/>
    <line x1="370.4" y1="614.3" x2="388" y2="618.6"/>
    <line x1="509.8" y1="615.4" x2="528" y2="621.9"/>
  </g>
  <!-- time axis / bottom -->
  <rect x="0" y="686" width="1199" height="31" fill="#0f0f12"/>
  <rect x="0" y="686" width="1199" height="1" fill="#26272d"/>
  <line x1="1143.5" y1="665.5" x2="1196" y2="665.5" stroke="#2a2b33"/>
  <rect x="1195.8" y="0" width="3.2" height="717" fill="#1e1f24"/>
  <rect x="0" y="714.5" width="1199" height="2.5" fill="#202124"/>
</svg>

<!-- Bear labels -->
<div class="abs" style="left:140.7px;top:604.2px;width:26.8px;height:13.8px;background:#e81c36;border-radius:2px"></div>
<div class="t" style="left:55.0px;width:200px;text-align:center;top:606.45px;font-size:8.8px;color:#fde6ea;font-weight:400;">Bear</div>
<div class="abs" style="left:160.6px;top:605.4px;width:24px;height:13.8px;background:#e81c36;border-radius:2px"></div>
<div class="t" style="left:70.6px;width:200px;text-align:center;top:608.15px;font-size:8.8px;color:#fde6ea;font-weight:400;">Bear</div>
<div class="abs" style="left:386.3px;top:606.4px;width:27.7px;height:13.1px;background:#e81c36;border-radius:2px"></div>
<div class="t" style="left:299.6px;width:200px;text-align:center;top:608.45px;font-size:8.8px;color:#fde6ea;font-weight:400;">Bear</div>
<div class="abs" style="left:527.8px;top:612.8px;width:27.5px;height:13px;background:#e81c36;border-radius:2px"></div>
<div class="t" style="left:441.3px;width:200px;text-align:center;top:614.85px;font-size:8.8px;color:#fde6ea;font-weight:400;">Bear</div>

<div class="t" style="left:1150.2px;top:39.38px;font-size:9px;color:#a3a6af;font-weight:400;transform:scaleX(1.125);transform-origin:0 0">4,500.0</div><div class="t" style="left:1150.2px;top:79.51px;font-size:9px;color:#a3a6af;font-weight:400;transform:scaleX(1.125);transform-origin:0 0">4,300.0</div><div class="t" style="left:1150.2px;top:121.55px;font-size:9px;color:#a3a6af;font-weight:400;transform:scaleX(1.125);transform-origin:0 0">4,100.0</div><div class="t" style="left:1150.2px;top:165.70px;font-size:9px;color:#a3a6af;font-weight:400;transform:scaleX(1.125);transform-origin:0 0">3,900.0</div><div class="t" style="left:1150.2px;top:188.63px;font-size:9px;color:#a3a6af;font-weight:400;transform:scaleX(1.125);transform-origin:0 0">3,800.0</div><div class="t" style="left:1150.2px;top:212.17px;font-size:9px;color:#a3a6af;font-weight:400;transform:scaleX(1.125);transform-origin:0 0">3,700.0</div><div class="t" style="left:1150.2px;top:236.35px;font-size:9px;color:#a3a6af;font-weight:400;transform:scaleX(1.125);transform-origin:0 0">3,600.0</div><div class="t" style="left:1150.2px;top:261.22px;font-size:9px;color:#a3a6af;font-weight:400;transform:scaleX(1.125);transform-origin:0 0">3,500.0</div><div class="t" style="left:1150.2px;top:286.80px;font-size:9px;color:#a3a6af;font-weight:400;transform:scaleX(1.125);transform-origin:0 0">3,400.0</div><div class="t" style="left:1150.2px;top:318.52px;font-size:9px;color:#a3a6af;font-weight:400;transform:scaleX(1.125);transform-origin:0 0">3,280.0</div><div class="t" style="left:1150.2px;top:351.42px;font-size:9px;color:#a3a6af;font-weight:400;transform:scaleX(1.125);transform-origin:0 0">3,160.0</div><div class="t" style="left:1150.2px;top:374.06px;font-size:9px;color:#a3a6af;font-weight:400;transform:scaleX(1.125);transform-origin:0 0">3,080.0</div><div class="t" style="left:1150.2px;top:397.29px;font-size:9px;color:#a3a6af;font-weight:400;transform:scaleX(1.125);transform-origin:0 0">3,000.0</div><div class="t" style="left:1150.2px;top:427.21px;font-size:9px;color:#a3a6af;font-weight:400;transform:scaleX(1.125);transform-origin:0 0">2,900.0</div><div class="t" style="left:1150.2px;top:451.90px;font-size:9px;color:#a3a6af;font-weight:400;transform:scaleX(1.125);transform-origin:0 0">2,820.0</div><div class="t" style="left:1150.2px;top:477.31px;font-size:9px;color:#a3a6af;font-weight:400;transform:scaleX(1.125);transform-origin:0 0">2,740.0</div><div class="t" style="left:1150.2px;top:503.46px;font-size:9px;color:#a3a6af;font-weight:400;transform:scaleX(1.125);transform-origin:0 0">2,660.0</div><div class="t" style="left:1150.2px;top:527.00px;font-size:9px;color:#a3a6af;font-weight:400;transform:scaleX(1.125);transform-origin:0 0">2,590.0</div><div class="t" style="left:1150.2px;top:551.19px;font-size:9px;color:#a3a6af;font-weight:400;transform:scaleX(1.125);transform-origin:0 0">2,520.0</div><div class="t" style="left:1150.2px;top:574.25px;font-size:9px;color:#a3a6af;font-weight:400;transform:scaleX(1.125);transform-origin:0 0">2,455.0</div>
<div class="t" style="left:1150.4px;top:612.78px;font-size:9px;color:#a3a6af;font-weight:400;transform:scaleX(1.1);transform-origin:0 0">75.00</div>
<div class="t" style="left:1150.4px;top:636.28px;font-size:9px;color:#a3a6af;font-weight:400;transform:scaleX(1.1);transform-origin:0 0">50.00</div>
<div class="abs" style="left:1144px;top:655px;width:52px;height:10.5px;overflow:hidden"><div style="position:relative;left:-1144px;top:-655px"><div class="t" style="left:1150.4px;top:659.98px;font-size:9px;color:#a3a6af;font-weight:400;transform:scaleX(1.1);transform-origin:0 0">25.00</div></div></div>
<div class="t" style="left:-48.0px;width:200px;text-align:center;top:672.71px;font-size:9.2px;color:#9497a0;font-weight:400;">Tháng 9</div><div class="t" style="left:11.0px;width:200px;text-align:center;top:672.71px;font-size:9.2px;color:#9497a0;font-weight:400;">Tháng 10</div><div class="t" style="left:76.0px;width:200px;text-align:center;top:672.71px;font-size:9.2px;color:#9497a0;font-weight:400;">Tháng 11</div><div class="t" style="left:135.5px;width:200px;text-align:center;top:672.71px;font-size:9.2px;color:#9497a0;font-weight:400;">Tháng Mười hai</div><div class="t" style="left:195.0px;width:200px;text-align:center;top:671.82px;font-size:9.9px;color:#c5c8d0;font-weight:700;">2025</div><div class="t" style="left:257.0px;width:200px;text-align:center;top:672.71px;font-size:9.2px;color:#9497a0;font-weight:400;">Tháng Hai</div><div class="t" style="left:313.0px;width:200px;text-align:center;top:672.71px;font-size:9.2px;color:#9497a0;font-weight:400;">Tháng 3</div><div class="t" style="left:372.0px;width:200px;text-align:center;top:672.71px;font-size:9.2px;color:#9497a0;font-weight:400;">Tháng 4</div><div class="t" style="left:430.0px;width:200px;text-align:center;top:672.71px;font-size:9.2px;color:#9497a0;font-weight:400;">Tháng Năm</div><div class="t" style="left:494.0px;width:200px;text-align:center;top:672.71px;font-size:9.2px;color:#9497a0;font-weight:400;">Tháng 6</div><div class="t" style="left:554.0px;width:200px;text-align:center;top:672.71px;font-size:9.2px;color:#9497a0;font-weight:400;">Tháng 7</div><div class="t" style="left:619.0px;width:200px;text-align:center;top:672.71px;font-size:9.2px;color:#9497a0;font-weight:400;">Tháng Tám</div><div class="t" style="left:678.0px;width:200px;text-align:center;top:672.71px;font-size:9.2px;color:#9497a0;font-weight:400;">Tháng 9</div><div class="t" style="left:740.0px;width:200px;text-align:center;top:672.71px;font-size:9.2px;color:#9497a0;font-weight:400;">Tháng 10</div><div class="t" style="left:805.0px;width:200px;text-align:center;top:672.71px;font-size:9.2px;color:#9497a0;font-weight:400;">Tháng 11</div><div class="t" style="left:929.5px;width:200px;text-align:center;top:671.82px;font-size:9.9px;color:#c5c8d0;font-weight:700;">2026</div><div class="t" style="left:1003.0px;width:200px;text-align:center;top:672.71px;font-size:9.2px;color:#9497a0;font-weight:400;">Tháng Hai</div>
<svg class="abs" style="left:6px;top:6px" width="17" height="17" viewBox="6 6 17 17">
<defs><linearGradient id="gg" x1="0" y1="0" x2="0" y2="1"><stop offset="0" stop-color="#f0b43c"/><stop offset="1" stop-color="#e39a1c"/></linearGradient></defs>
<circle cx="14.15" cy="14.15" r="6.7" fill="url(#gg)"/>
<path d="M12.6 12.9 L13.2 11.2 H15.1 L15.7 12.9 Z" fill="#ffe9a8"/>
<path d="M9.9 15.9 L10.5 14.1 H12.6 L13.2 15.9 Z" fill="#fff6d8"/>
<path d="M15.1 15.9 L15.7 14.1 H17.8 L18.4 15.9 Z" fill="#fff6d8"/>
<rect x="10.2" y="16.9" width="8" height="0.9" fill="#f6c45a"/>
</svg>
<div class="t" style="left:24.0px;top:8.10px;font-size:11.7px;color:#c9ccd4;font-weight:400;">Gold Mini CFD · 1D · WH SelfInvest</div>
<div class="abs" style="left:218px;top:8.3px;width:28.3px;height:12.5px;border-radius:6px;overflow:hidden">
<div class="abs" style="left:0;top:0;width:14px;height:12.5px;background:#0d3129"></div>
<div class="abs" style="left:14px;top:0;width:14.3px;height:12.5px;background:#3f0d1e"></div>
<div class="abs" style="left:4.6px;top:3.9px;width:4.8px;height:4.8px;border-radius:50%;background:#1c9f80"></div>
<div class="abs" style="left:18.3px;top:4.6px;width:5.6px;height:1.3px;background:#b51e45"></div>
<div class="abs" style="left:18.3px;top:7.1px;width:5.6px;height:1.3px;background:#b51e45"></div>
</div>
<div class="t" style="left:253.0px;top:9.79px;font-size:9.7px;color:#a9acb4;font-weight:400;">O</div>
<div class="t" style="left:260.7px;top:9.79px;font-size:9.7px;color:#1b9578;font-weight:400;">4,355.4</div>
<div class="t" style="left:298.0px;top:9.79px;font-size:9.7px;color:#a9acb4;font-weight:400;">H</div>
<div class="t" style="left:305.7px;top:9.79px;font-size:9.7px;color:#1b9578;font-weight:400;">4,412.2</div>
<div class="t" style="left:342.7px;top:9.79px;font-size:9.7px;color:#a9acb4;font-weight:400;">L</div>
<div class="t" style="left:348.7px;top:9.79px;font-size:9.7px;color:#1b9578;font-weight:400;">4,355.3</div>
<div class="t" style="left:386.0px;top:9.79px;font-size:9.7px;color:#a9acb4;font-weight:400;">C</div>
<div class="t" style="left:393.4px;top:9.79px;font-size:9.7px;color:#1b9578;font-weight:400;">4,411.6</div>
<div class="t" style="left:430.8px;top:9.79px;font-size:9.7px;color:#1b9578;font-weight:400;">+72.9 (+1.68%)</div>
<div class="abs" style="left:6.6px;top:25.5px;width:51.8px;height:26.3px;border:1.3px solid #b81d44;border-radius:4px;background:#0b0a0d"></div>
<div class="t" style="left:-67.7px;width:200px;text-align:center;top:28.61px;font-size:9.2px;color:#e0284f;font-weight:400;letter-spacing:0.6px">4,411.5</div>
<div class="t" style="left:-67.9px;width:200px;text-align:center;top:39.04px;font-size:8.1px;color:#d4233f;font-weight:400;letter-spacing:0.2px">BÁN</div>
<div class="t" style="left:64.7px;top:34.76px;font-size:8.2px;color:#c3c6ce;font-weight:400;">0.5</div>
<div class="abs" style="left:81.7px;top:25.7px;width:53.3px;height:26px;border:1.3px solid #2c34c6;border-radius:4px;background:#0b0a0e"></div>
<div class="t" style="left:8.2px;width:200px;text-align:center;top:29.21px;font-size:9.2px;color:#3550ec;font-weight:400;letter-spacing:0.6px">4,412.0</div>
<div class="t" style="left:8.1px;width:200px;text-align:center;top:38.44px;font-size:8.1px;color:#3046da;font-weight:400;letter-spacing:0.2px">MUA</div>
<div class="abs" style="left:7px;top:56.3px;width:23.5px;height:15.2px;border:1px solid #23252c;border-radius:2px;background:#131419"></div>
<svg class="abs" style="left:9px;top:60px" width="10" height="8" viewBox="0 0 10 8"><path d="M1.6 2.6 L4.9 5.6 L8.2 2.6" fill="none" stroke="#e4e6ea" stroke-width="1.4"/></svg>
<div class="t" style="left:21.5px;top:59.44px;font-size:10px;color:#e4e6ea;font-weight:700;">2</div>
<svg class="abs" style="left:42px;top:58px" width="14" height="14" viewBox="0 0 14 14">
<circle cx="7" cy="7" r="6.3" fill="#2c1019"/>
<rect x="6.35" y="3" width="1.3" height="4.6" rx="0.5" fill="#c01c46"/>
<rect x="6.35" y="9.2" width="1.3" height="1.4" rx="0.5" fill="#8e1838"/>
</svg>
<div class="abs" style="left:1147.3px;top:5.2px;width:46.3px;height:18.4px;border:1px solid #3a3b42;border-radius:3px;background:#0b0b0d"></div>
<div class="t" style="left:1149.6px;top:10.01px;font-size:9.2px;color:#d6d8dd;font-weight:400;">USD</div>
<svg class="abs" style="left:1184px;top:11px" width="8" height="6" viewBox="0 0 8 6"><path d="M1.6 1.8 L4 4.2 L6.4 1.8" fill="none" stroke="#e0e2e6" stroke-width="1.2"/></svg>
<div class="abs" style="left:1092.4px;top:55.9px;width:51.1px;height:11.7px;background:#168a17"></div>
<div class="t" style="left:1096.0px;top:57.67px;font-size:8.9px;color:#a6eea6;font-weight:400;">GOLDMINI</div>
<div class="abs" style="left:1144px;top:55.9px;width:49.4px;height:22.6px;background:#168a17"></div>
<div class="t" style="left:1150.0px;top:56.40px;font-size:9.8px;color:#b4f2b4;font-weight:400;">4,411.6</div>
<div class="t" style="left:1151.5px;top:66.90px;font-size:9.8px;color:#9fe39f;font-weight:400;">17:11:59</div>
<svg class="abs" style="left:0;top:636px" width="140" height="24" viewBox="0 636 140 24">
<path d="M8.9 644 H18.1 V654.8 H13.8 V648.3 H8.9 Z" fill="#e2e3e6"/>
<circle cx="21.9" cy="646.2" r="2.2" fill="#e2e3e6"/>
<path d="M26.2 644 H31.1 L27.3 654.8 H21.9 Z" fill="#e2e3e6"/>
</svg><div class="t" style="left:36.6px;top:641.76px;font-size:15.4px;color:#dedfe2;font-weight:700;letter-spacing:0.1px">TradingView</div>
<div class="abs" style="left:362.5px;top:692.3px;width:1px;height:16.4px;background:#34353b"></div>
<svg class="abs" style="left:370px;top:692px" width="20" height="17" viewBox="370 692 20 17">
<g fill="none" stroke="#cfd1d6" stroke-width="1.2" stroke-linecap="round" stroke-linejoin="round">
<path d="M374.2 700.6 V696.4 Q374.2 695.3 375.3 695.3 H386.3 Q387.4 695.3 387.4 696.4 V705.6 Q387.4 706.7 386.3 706.7 H380.6"/>
<path d="M374.2 698.4 H387.4"/>
<path d="M378 693.8 V696.4 M382.8 693.8 V696.4"/>
<path d="M372.6 703.7 H378.6 M376.6 701.7 L378.6 703.7 L376.6 705.7"/>
</g></svg>
<svg class="abs" style="left:1164px;top:670px" width="14" height="14" viewBox="0 0 14 14">
<path d="M3.9 1.6 H9.1 L11.8 6.7 L9.1 11.8 H3.9 L1.2 6.7 Z" fill="none" stroke="#c4c6cc" stroke-width="1.05" stroke-linejoin="round"/>
<circle cx="6.5" cy="6.7" r="1.55" fill="none" stroke="#c4c6cc" stroke-width="1.05"/>
</svg>
<div class="t" style="left:1108.6px;top:695.27px;font-size:10.9px;color:#d1d3d8;font-weight:400;">13:48:00 UTC+7</div>
<svg class="abs" style="left:997px;top:580px" width="18" height="18" viewBox="0 0 18 18">
<circle cx="9" cy="9.2" r="7.6" fill="#7a1328" stroke="#b0183a" stroke-width="1.2"/>
<clipPath id="fc"><circle cx="9" cy="9.2" r="5.4"/></clipPath>
<g clip-path="url(#fc)">
<rect x="3" y="3" width="12" height="12" fill="#f2f2f2"/>
<rect x="3" y="5.6" width="12" height="1.3" fill="#e03a3a"/>
<rect x="3" y="8.2" width="12" height="1.3" fill="#e03a3a"/>
<rect x="3" y="12.2" width="12" height="3" fill="#d03030"/>
<rect x="3" y="3" width="6.6" height="7" fill="#3a7bd5"/>
</g></svg>
<div class="t" style="left:11.0px;top:695.70px;font-size:10.4px;color:#d1d3d8;font-weight:400;">1Ngày</div><div class="t" style="left:50.0px;top:695.70px;font-size:10.4px;color:#d1d3d8;font-weight:400;">5Ngày</div><div class="t" style="left:89.0px;top:695.70px;font-size:10.4px;color:#d1d3d8;font-weight:400;">1Tháng</div><div class="t" style="left:133.0px;top:695.70px;font-size:10.4px;color:#d1d3d8;font-weight:400;">3Tháng</div><div class="t" style="left:178.0px;top:695.70px;font-size:10.4px;color:#d1d3d8;font-weight:400;">6 tháng</div><div class="t" style="left:222.0px;top:695.70px;font-size:10.4px;color:#d1d3d8;font-weight:400;">YTD</div><div class="t" style="left:252.0px;top:695.70px;font-size:10.4px;color:#d1d3d8;font-weight:400;">1Năm</div><div class="t" style="left:289.0px;top:695.70px;font-size:10.4px;color:#d1d3d8;font-weight:400;">5Năm</div><div class="t" style="left:326.0px;top:695.70px;font-size:10.4px;color:#d1d3d8;font-weight:400;">Tất cả</div>
</body></html>
